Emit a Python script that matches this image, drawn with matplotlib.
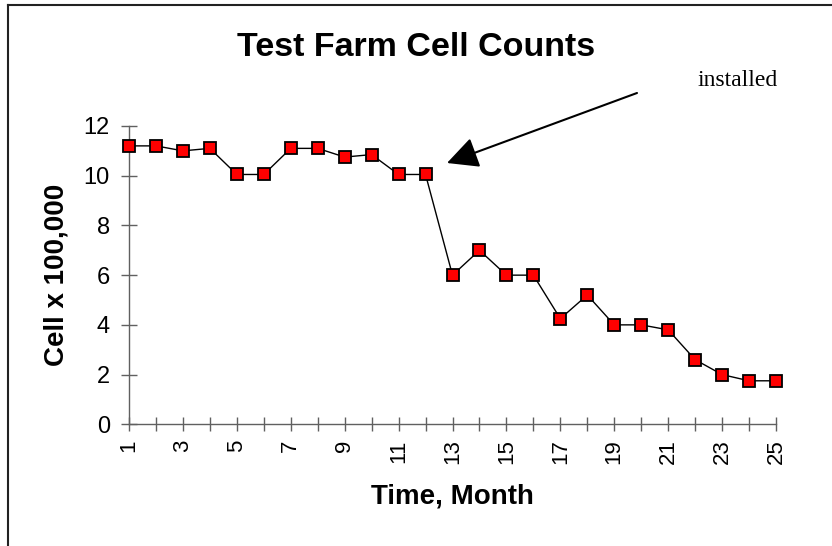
import matplotlib
matplotlib.use("Agg")
import matplotlib.pyplot as plt
from matplotlib.lines import Line2D

months = list(range(1, 26))
counts = [11.2, 11.2, 11.0, 11.1, 10.05, 10.05, 11.1, 11.1, 10.75, 10.85,
          10.05, 10.05, 6.0, 7.0, 6.0, 6.0, 4.25, 5.2, 4.0, 4.0,
          3.8, 2.6, 2.0, 1.75, 1.75]
month_labels = [str(m) if m % 2 == 1 else "" for m in months]
y_ticks = [0, 2, 4, 6, 8, 10, 12]

plt.rcParams["font.family"] = ["Liberation Sans", "DejaVu Sans"]

fig = plt.figure(figsize=(8.32, 5.46), dpi=100)
ax = fig.add_axes([129 / 832, 1 - 424.3 / 546, 647 / 832, 298.3 / 546])

ax.plot(months, counts, color="black", linewidth=1.0,
        marker="s", markersize=8.3, markerfacecolor="#ff0000",
        markeredgecolor="black", markeredgewidth=1.3, clip_on=False, zorder=3)

ax.set_xlim(1, 25)
ax.set_ylim(0, 12)
ax.set_xticks(months)
ax.set_xticklabels(month_labels, rotation=90, fontsize=16)
ax.set_yticks(y_ticks)
ax.set_yticklabels([str(v) for v in y_ticks], fontsize=17)

for side in ["top", "right"]:
    ax.spines[side].set_visible(False)
for side in ["left", "bottom"]:
    ax.spines[side].set_color("#606060")
    ax.spines[side].set_linewidth(1.0)
ax.tick_params(axis="y", direction="inout", length=11.5, width=1.0, color="#606060", pad=8)
ax.tick_params(axis="x", direction="inout", length=10, width=1.0, color="#606060", pad=6)

ax.set_xlabel("Time, Month", fontsize=20, fontweight="bold", labelpad=14)
ax.set_ylabel("Cell x 100,000", fontsize=20, fontweight="bold", labelpad=10)

fig.text(0.5, 1 - 47 / 546, "Test Farm Cell Counts", ha="center", va="center",
         fontsize=24.5, fontweight="bold")

# pfeil + text
ax.annotate("", xy=(447, 546 - 163), xycoords="figure pixels",
            xytext=(637, 546 - 93), textcoords="figure pixels",
            arrowprops=dict(arrowstyle="-|>,head_length=0.4,head_width=0.2",
                            mutation_scale=48, color="black", lw=1.5,
                            shrinkA=0, shrinkB=0))
fig.text(698 / 832, 1 - 80 / 546, "installed", family="Liberation Serif",
         fontsize=17, ha="left", va="center")

# rahmen oben und links
fig.add_artist(Line2D([8 / 832, 8 / 832], [0, 1 - 5 / 546], transform=fig.transFigure,
                      color="#222222", linewidth=1.5))
fig.add_artist(Line2D([8 / 832, 1], [1 - 5 / 546, 1 - 5 / 546], transform=fig.transFigure,
                      color="#222222", linewidth=1.5))

fig.savefig("out.png", dpi=100)
